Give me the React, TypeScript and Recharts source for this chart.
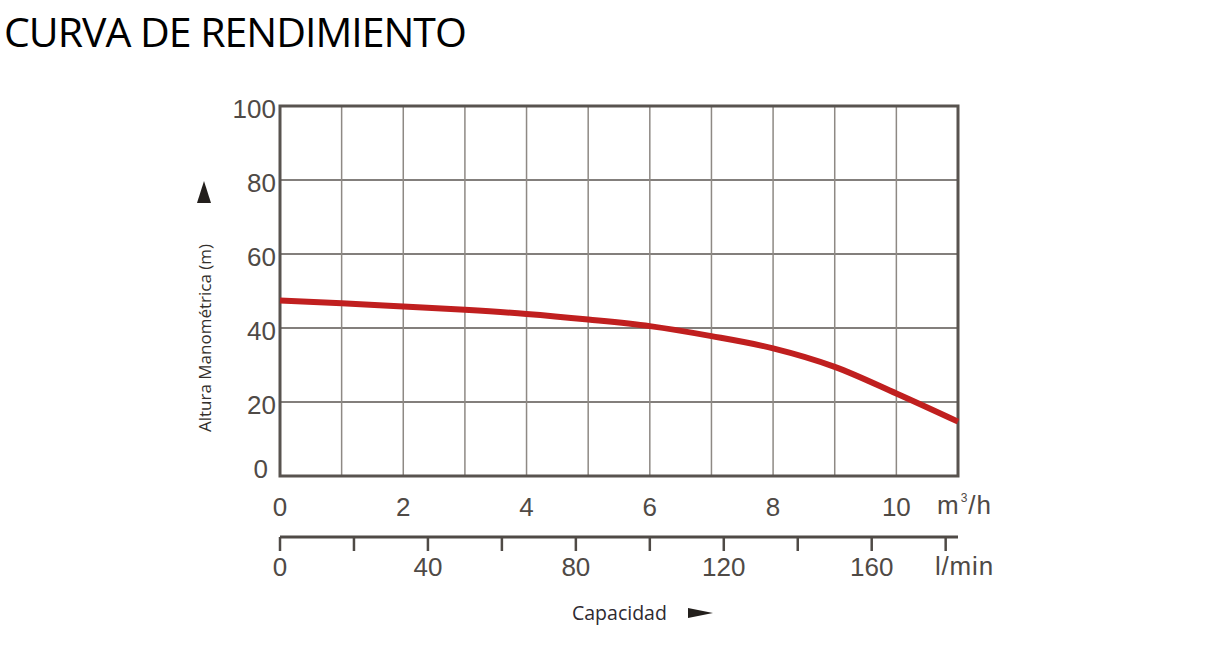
import React from "react";
import {
  LineChart,
  Line,
  XAxis,
  YAxis,
  CartesianGrid,
  ReferenceArea,
} from "recharts";

// caudal en m3/h y altura en m
const flowM3h = [0, 1, 2, 3, 4, 5, 6, 7, 8, 9, 10, 11];
const headM = [47.4, 46.7, 45.8, 44.9, 43.8, 42.3, 40.5, 37.8, 34.5, 29.5, 22.3, 14.7];

const m3hTicks = [0, 1, 2, 3, 4, 5, 6, 7, 8, 9, 10, 11];
const m3hLabels = [0, 2, 4, 6, 8, 10];
const lminTicks = [0, 20, 40, 60, 80, 100, 120, 140, 160, 180];
const lminLabels = [0, 40, 80, 120, 160];
const headTicks = [0, 20, 40, 60, 80, 100];

// 1 m3/h = 1000/60 l/min
const data = flowM3h.map((q, i) => ({ q, lmin: (q * 1000) / 60, h: headM[i] }));

const ink = "#4f4a46";
const tickFont = "'Liberation Sans', Arial, sans-serif";
const labelFont = "'Open Sans', 'Noto Sans', sans-serif";

export default function App() {
  return (
    <div
      style={{
        position: "absolute",
        left: 0,
        top: 0,
        width: 1206,
        height: 655,
        background: "#fff",
      }}
    >
      {/* TITULO */}
      <div
        style={{
          position: "absolute",
          left: 4,
          top: 3,
          fontFamily: labelFont,
          fontSize: 41,
          letterSpacing: -1,
          color: "#000",
          whiteSpace: "nowrap",
        }}
      >
        CURVA DE RENDIMIENTO
      </div>

      <LineChart
        width={1206}
        height={655}
        data={data}
        margin={{ top: 106, right: 248, bottom: 68, left: 200 }}
      >
        <CartesianGrid horizontal vertical={false} stroke="#5a5551" strokeWidth={1.3} />
        <CartesianGrid horizontal={false} vertical stroke="#8e8984" strokeWidth={1.5} />

        <XAxis
          dataKey="q"
          type="number"
          domain={[0, 11]}
          ticks={m3hTicks}
          interval={0}
          axisLine={false}
          tickLine={false}
          tickSize={0}
          tickMargin={0}
          height={61}
          tick={(p: any) =>
            m3hLabels.includes(p.payload.value) ? (
              <text
                x={p.x}
                y={p.y + 40}
                textAnchor="middle"
                fontFamily={tickFont}
                fontSize={26}
                fill={ink}
              >
                {p.payload.value}
              </text>
            ) : (
              <g />
            )
          }
        />

        <XAxis
          xAxisId="lmin"
          dataKey="lmin"
          type="number"
          domain={[0, (11 * 1000) / 60]}
          ticks={lminTicks}
          interval={0}
          allowDataOverflow
          axisLine={{ stroke: ink, strokeWidth: 3 }}
          tickLine={{ stroke: ink, strokeWidth: 2.5 }}
          tickSize={14}
          tickMargin={0}
          height={50}
          tick={(p: any) =>
            lminLabels.includes(p.payload.value) ? (
              <text
                x={p.x}
                y={p.y + 25}
                textAnchor="middle"
                fontFamily={tickFont}
                fontSize={26}
                fill={ink}
              >
                {p.payload.value}
              </text>
            ) : (
              <g />
            )
          }
        />

        <YAxis
          type="number"
          domain={[0, 100]}
          ticks={headTicks}
          interval={0}
          width={80}
          axisLine={false}
          tickLine={false}
          tickSize={0}
          tickMargin={0}
          tick={(p: any) => (
            <text
              x={p.x - (p.payload.value === 0 ? 12 : 4)}
              y={p.y + (p.payload.value === 0 ? 2 : 12)}
              textAnchor="end"
              fontFamily={tickFont}
              fontSize={26}
              fill={ink}
            >
              {p.payload.value}
            </text>
          )}
        />

        <ReferenceArea
          x1={0}
          x2={11}
          y1={0}
          y2={100}
          fill="none"
          stroke="#58534f"
          strokeWidth={3}
        />

        {/* serie invisible para que el eje l/min tenga datos */}
        <Line
          xAxisId="lmin"
          type="monotone"
          dataKey="h"
          stroke="none"
          strokeOpacity={0}
          dot={false}
          activeDot={false}
          isAnimationActive={false}
        />

        <Line
          type="monotone"
          dataKey="h"
          stroke="#c01f1f"
          strokeWidth={6}
          dot={false}
          activeDot={false}
          isAnimationActive={false}
        />
      </LineChart>

      {/* UNIDADES */}
      <div
        style={{
          position: "absolute",
          left: 937,
          top: 490,
          fontFamily: tickFont,
          fontSize: 26,
          color: ink,
          whiteSpace: "nowrap",
          letterSpacing: 1,
        }}
      >
        m<sup style={{ fontSize: 12, verticalAlign: 12, marginLeft: 1 }}>3</sup>/h
      </div>
      <div
        style={{
          position: "absolute",
          left: 935,
          top: 551,
          fontFamily: tickFont,
          fontSize: 26,
          color: ink,
          whiteSpace: "nowrap",
          letterSpacing: 0.8,
        }}
      >
        l/min
      </div>

      {/* TITULOS DE EJES */}
      <div
        style={{
          position: "absolute",
          left: 204,
          top: 338,
          transform: "translate(-50%, -50%) rotate(-90deg)",
          fontFamily: labelFont,
          fontSize: 17,
          color: "#332f2c",
          whiteSpace: "nowrap",
        }}
      >
        Altura Manométrica (m)
      </div>
      <div
        style={{
          position: "absolute",
          left: 197,
          top: 181,
          width: 0,
          height: 0,
          borderLeft: "7px solid transparent",
          borderRight: "7px solid transparent",
          borderBottom: "22px solid #231f1c",
        }}
      />
      <div
        style={{
          position: "absolute",
          left: 572,
          top: 599,
          fontFamily: labelFont,
          fontSize: 19.5,
          color: "#2e2a30",
          whiteSpace: "nowrap",
        }}
      >
        Capacidad
      </div>
      <div
        style={{
          position: "absolute",
          left: 688,
          top: 608,
          width: 0,
          height: 0,
          borderTop: "5px solid transparent",
          borderBottom: "5px solid transparent",
          borderLeft: "25px solid #231f1c",
        }}
      />
    </div>
  );
}
